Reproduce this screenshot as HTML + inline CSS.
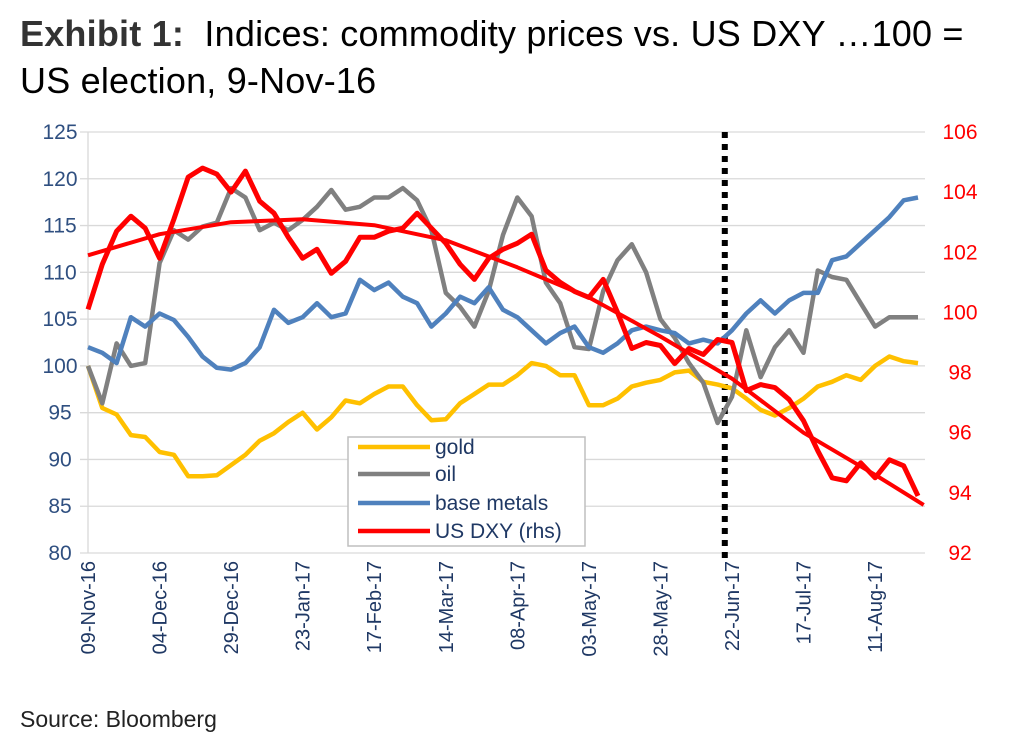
<!DOCTYPE html>
<html><head><meta charset="utf-8">
<style>
body{margin:0;background:#fff;width:1010px;height:754px;overflow:hidden;font-family:"Liberation Sans",sans-serif;}
#title{position:absolute;left:20px;top:10px;font-size:36px;line-height:47px;color:#000;letter-spacing:0.2px;}
#title b{color:#333;}
#source{position:absolute;left:20px;top:706px;font-size:23px;color:#222;}
svg{position:absolute;left:0;top:0;}
</style></head><body>
<div id="title"><b>Exhibit 1:</b>&nbsp; Indices: commodity prices vs. US DXY …100 =<br>US election, 9-Nov-16</div>
<div id="source">Source: Bloomberg</div>
<svg id="chart" width="1010" height="754"></svg>
<script>
const days=[0,5,10,15,20,25,30,35,40,45,50,55,60,65,70,75,80,85,90,95,100,105,110,115,120,125,130,135,140,145,150,155,160,165,170,175,180,185,190,195,200,205,210,215,220,225,230,235,240,245,250,255,260,265,270,275,280,285,290];
const gold=[100,95.5,94.8,92.6,92.4,90.8,90.5,88.2,88.2,88.3,89.4,90.5,92,92.8,94,95,93.2,94.5,96.3,96,97,97.8,97.8,95.8,94.2,94.3,96,97,98,98,99,100.3,100,99,99,95.8,95.8,96.5,97.8,98.2,98.5,99.3,99.5,98.3,98,97.6,96.5,95.3,94.7,95.5,96.5,97.8,98.3,99,98.5,100,101,100.5,100.3];
const oil=[100,96,102.4,100,100.3,111,114.5,113.5,114.9,115.3,119,118,114.5,115.3,114.5,115.6,117,118.8,116.7,117,118,118,119,117.7,114.5,107.8,106.3,104.2,108,114,118,116,108.9,106.7,102,101.8,108,111.3,113,110,105,103,100.3,98.2,93.9,96.7,103.8,98.8,102,103.8,101.4,110.2,109.5,109.2,106.7,104.2,105.2,105.2,105.2];
const metals=[102,101.4,100.3,105.2,104.2,105.6,104.9,103.1,101,99.8,99.6,100.3,102,106,104.6,105.2,106.7,105.2,105.6,109.2,108.1,108.9,107.4,106.7,104.2,105.6,107.4,106.7,108.4,106,105.2,103.8,102.4,103.5,104.2,102,101.4,102.4,103.8,104.2,103.8,103.5,102.4,102.8,102.4,103.8,105.6,107,105.6,107,107.8,107.8,111.3,111.7,113.1,114.5,115.9,117.7,118];
const dxy=[100.1,101.6,102.7,103.2,102.8,101.8,103.1,104.5,104.8,104.6,104,104.7,103.7,103.3,102.5,101.8,102.1,101.3,101.7,102.5,102.5,102.7,102.8,103.3,102.8,102.3,101.6,101.1,101.8,102.1,102.3,102.6,101.4,101,100.7,100.5,101.1,100,98.8,99,98.9,98.3,98.8,98.6,99.1,99,97.4,97.6,97.5,97.1,96.4,95.4,94.5,94.4,95,94.5,95.1,94.9,93.9];
const trendDays=[0,25,50,75,100,125,150,175,200,225,250,275,292];
const trendVals=[101.9,102.6,103.0,103.1,102.9,102.4,101.5,100.5,99.2,97.8,96.0,94.6,93.6];
const leftTicks=[80,85,90,95,100,105,110,115,120,125];
const rightTicks=[92,94,96,98,100,102,104,106];
const xTickDays=[0,25,50,75,100,125,150,175,200,225,250,275];
const xTickLabels=["09-Nov-16","04-Dec-16","29-Dec-16","23-Jan-17","17-Feb-17","14-Mar-17","08-Apr-17","03-May-17","28-May-17","22-Jun-17","17-Jul-17","11-Aug-17"];
const electionLineDay=222.5;

const X0=88,PXD=2.862,YB=553,YT=132;
const x=d=>X0+d*PXD;
const yL=v=>YB-(v-80)/45*(YB-YT);
const yR=v=>YB-(v-92)/14*(YB-YT);
const svg=document.getElementById('chart');
const NS='http://www.w3.org/2000/svg';
function mk(t,a){const e=document.createElementNS(NS,t);for(const k in a)e.setAttribute(k,a[k]);svg.appendChild(e);return e;}

leftTicks.forEach(v=>{
  const g=mk('line',{x1:80,x2:925,y1:yL(v),y2:yL(v),stroke:'#d9d9d9','stroke-width':1.3});
  
  
  const t=mk('text',{x:60,y:yL(v)+7,'text-anchor':'middle','font-size':21,fill:'#2f4f80'});
  t.textContent=v;
  
  
});
rightTicks.forEach(v=>{
  const t=mk('text',{x:960,y:yR(v)+7,'text-anchor':'middle','font-size':21,fill:'#ff0000'});
  t.textContent=v;
  
  
});
const ax=mk('line',{x1:X0,x2:X0,y1:YT,y2:YB,stroke:'#d9d9d9','stroke-width':1.3});


xTickDays.forEach((d,i)=>{
  const t=mk('text',{transform:`translate(${x(d)+7},${YB+8}) rotate(-90)`,'text-anchor':'end','font-size':20,fill:'#1f3864'});
  t.textContent=xTickLabels[i];
  
  
});
const dl=mk('line',{x1:x(electionLineDay),x2:x(electionLineDay),y1:YT,y2:YB+10,stroke:'#000','stroke-width':6,'stroke-dasharray':'6,6'});



function series(vals,ds,yf,color,name,w){
  const pts=vals.map((v,i)=>x(ds[i]).toFixed(1)+','+yf(v).toFixed(1)).join(' ');
  const p=mk('polyline',{points:pts,fill:'none',stroke:color,'stroke-width':w,'stroke-linejoin':'round'});
  
  
}
series(gold,days,yL,'#ffc000','gold-line',4.5);
series(oil,days,yL,'#808080','oil-line',4.5);
series(metals,days,yL,'#4f81bd','base-metals-line',4.5);
series(dxy,days,yR,'#ff0000','us-dxy-line',5);
series(trendVals,trendDays,yR,'#ff0000','us-dxy-trend-line',4);

const lb=mk('rect',{x:348,y:437,width:237,height:109,fill:'#fff',stroke:'#bfbfbf','stroke-width':1.5});


[['gold','#ffc000',447],['oil','#808080',474],['base metals','#4f81bd',503],['US DXY (rhs)','#ff0000',531]].forEach(e=>{
  const l=mk('line',{x1:358,x2:430,y1:e[2],y2:e[2],stroke:e[1],'stroke-width':4.5});
  
  
  const t=mk('text',{x:435,y:e[2]+7,'font-size':21,fill:'#1f3864'});
  t.textContent=e[0];
  
  
});
</script>
</body></html>
